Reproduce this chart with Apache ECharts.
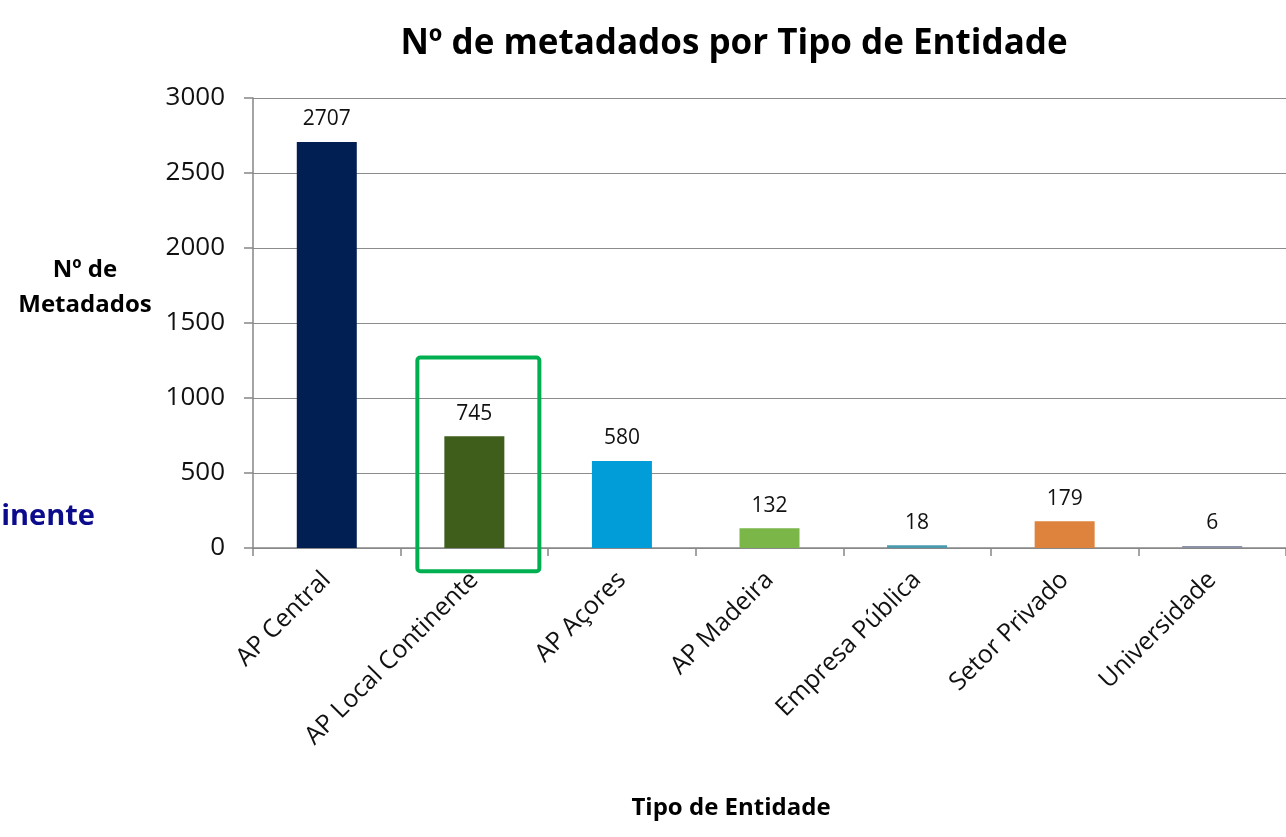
<!DOCTYPE html>
<html><head><meta charset="utf-8">
<script src="https://cdn.jsdelivr.net/npm/echarts@6/dist/echarts.min.js"></script>
<style>html,body{margin:0;padding:0;background:#fff}#c{width:1286px;height:837px}</style>
</head><body><div id="c"></div>
<script>
const categories = ["AP Central","AP Local Continente","AP Açores","AP Madeira","Empresa Pública","Setor Privado","Universidade"];
const values = [2707, 745, 580, 132, 18, 179, 6];
const barColors = ["#021F54","#3F5E1C","#009DD9","#7AB648","#4A9BB0","#DE833D","#8C93A6"];
const yTicks = {min:0, max:3000, interval:500};
const FONT = "Open Sans";

const chart = echarts.init(document.getElementById('c'));
function graphics(extra){
  return [
    {type:'text', x:95, y:517, style:{text:'inente', fontFamily:FONT, fontSize:29, fontWeight:'bold', fill:'#0B0B8C', align:'right', verticalAlign:'middle'}},
    {type:'text', x:85, y:288, style:{text:'Nº de\nMetadados', fontFamily:FONT, fontSize:24, fontWeight:'bold', fill:'#000', align:'center', verticalAlign:'middle', lineHeight:35}},
    {type:'text', x:731, y:808, style:{text:'Tipo de Entidade', fontFamily:FONT, fontSize:24, fontWeight:'bold', fill:'#000', align:'center', verticalAlign:'middle'}}
  ].concat(extra||[]);
}
chart.setOption({
  backgroundColor:'#fff',
  animation:false,
  title:{text:"Nº de metadados por Tipo de Entidade", left:729, top:22, textAlign:'center',
    textStyle:{fontFamily:FONT, fontSize:35, fontWeight:'bold', color:'#000'}},
  grid:{left:253, top:98, bottom:289, width:1036},
  xAxis:{type:'category', data:categories,
    axisLine:{lineStyle:{color:'#868686', width:1.5}},
    axisTick:{show:true, length:8, lineStyle:{color:'#868686', width:1.5}},
    axisLabel:{rotate:45, fontFamily:FONT, fontSize:25, color:'#111', margin:28, interval:0}},
  yAxis:{type:'value', min:yTicks.min, max:yTicks.max, interval:yTicks.interval,
    axisLine:{show:true, lineStyle:{color:'#868686', width:1.5}},
    axisTick:{show:true, length:9, lineStyle:{color:'#868686', width:1.5}},
    splitLine:{lineStyle:{color:'#8c8c8c', width:1.2}},
    axisLabel:{fontFamily:FONT, fontSize:26, color:'#111', margin:28, formatter:v=>String(v)}},
  series:[{type:'bar', barWidth:60, barMinHeight:2,
    data: values.map((v,i)=>({value:v, itemStyle:{color:barColors[i]}})),
    label:{show:true, position:'top', distance:12, fontFamily:FONT, fontSize:21, color:'#111'}}],
  graphic: graphics()
});
// highlight box around the AP Local Continente category
const c1 = chart.convertToPixel({xAxisIndex:0}, categories[1]);
const yTop = chart.convertToPixel({yAxisIndex:0}, 1270);
const yBot = chart.convertToPixel({yAxisIndex:0}, -155);
chart.setOption({graphic: graphics([
  {type:'rect', shape:{x:c1-57, y:yTop, width:122, height:yBot-yTop, r:3}, style:{fill:'none', stroke:'#00B050', lineWidth:4}, z:100}
])}, {replaceMerge:['graphic']});
</script></body></html>
